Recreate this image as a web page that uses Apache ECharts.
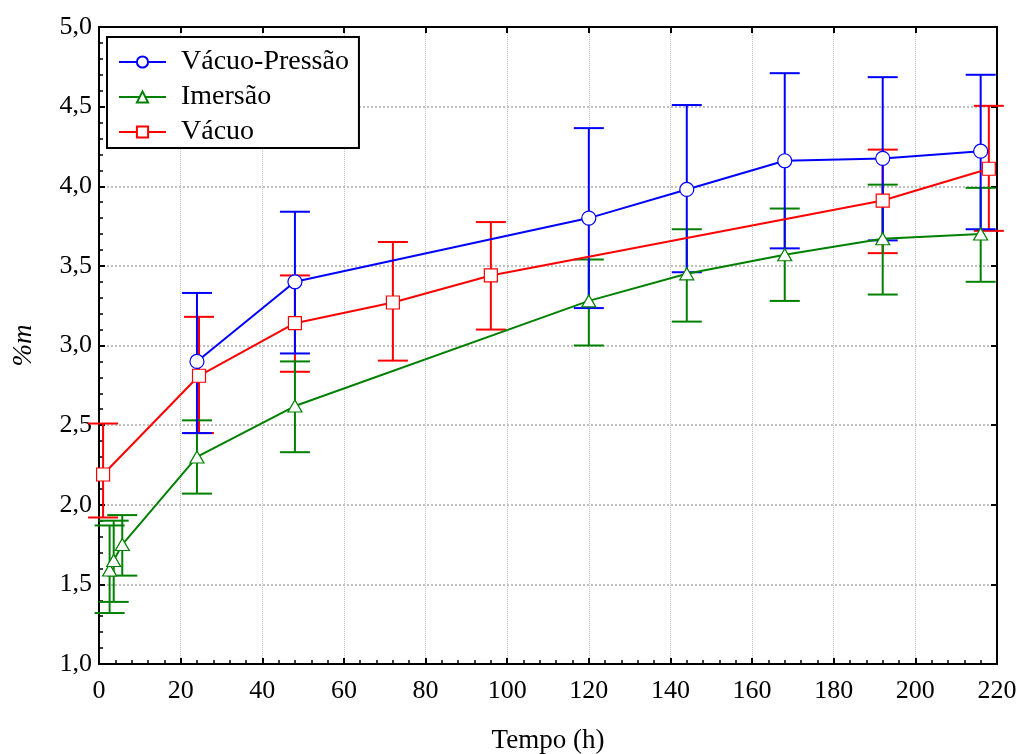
<!DOCTYPE html>
<html>
<head>
<meta charset="utf-8">
<script src="https://cdn.jsdelivr.net/npm/echarts@6/dist/echarts.min.js"></script>
<style>
html,body{margin:0;padding:0;background:#fff;}
#chart{width:1020px;height:754px;}
</style>
</head>
<body>
<div id="chart"></div>
<script>
// ---- data ----
const vpX     = [24, 48, 120, 144, 168, 192, 216];
const vpY     = [2.90, 3.40, 3.80, 3.98, 4.16, 4.175, 4.22];
const vpHigh  = [3.33, 3.84, 4.365, 4.51, 4.71, 4.685, 4.70];
const vpLow   = [2.45, 2.95, 3.235, 3.46, 3.61, 3.66, 3.73];

const imX     = [2.6, 3.6, 5.7, 24, 48, 120, 144, 168, 192, 216];
const imY     = [1.59, 1.65, 1.75, 2.30, 2.62, 3.28, 3.45, 3.57, 3.67, 3.70];
const imHigh  = [1.87, 1.90, 1.935, 2.53, 2.90, 3.54, 3.73, 3.86, 4.01, 3.99];
const imLow   = [1.32, 1.39, 1.555, 2.07, 2.33, 3.00, 3.15, 3.28, 3.32, 3.40];

const vaX     = [1, 24.5, 48, 72, 96, 192, 218];
const vaY     = [2.19, 2.81, 3.14, 3.27, 3.44, 3.91, 4.11];
const vaHigh  = [2.51, 3.18, 3.44, 3.65, 3.775, 4.23, 4.505];
const vaLow   = [1.92, 2.45, 2.835, 2.905, 3.10, 3.58, 3.72];

const seriesNames = ['Vácuo-Pressão', 'Imersão', 'Vácuo'];
const seriesColors = ['#0000ff', '#008000', '#ff0000'];
const seriesSymbols = ['circle', 'triangle', 'rect'];
const xTitle = 'Tempo (h)';
const yTitle = '%m';

const FONT = '"Liberation Serif", "Times New Roman", serif';

function pairs(xs, ys) { return xs.map((x, i) => [x, ys[i]]); }
function triples(xs, lo, hi) { return xs.map((x, i) => [x, lo[i], hi[i]]); }

function errSeries(name, color, data) {
  return {
    type: 'custom',
    name: name + ' err',
    z: 2,
    silent: true,
    data: data,
    encode: { x: 0, y: [1, 2] },
    renderItem: function (params, api) {
      const x = api.value(0);
      const lo = api.coord([x, api.value(1)]);
      const hi = api.coord([x, api.value(2)]);
      const hw = 15;
      const st = { stroke: color, lineWidth: 2 };
      return {
        type: 'group',
        children: [
          { type: 'line', shape: { x1: lo[0], y1: lo[1], x2: hi[0], y2: hi[1] }, style: st },
          { type: 'line', shape: { x1: hi[0] - hw, y1: hi[1], x2: hi[0] + hw, y2: hi[1] }, style: st },
          { type: 'line', shape: { x1: lo[0] - hw, y1: lo[1], x2: lo[0] + hw, y2: lo[1] }, style: st }
        ]
      };
    }
  };
}

const symbolSizes = [14, [14, 12], 13];

function lineSeries(idx, data) {
  return {
    type: 'line',
    name: seriesNames[idx],
    z: 3,
    data: data,
    symbol: seriesSymbols[idx],
    symbolSize: symbolSizes[idx],
    showAllSymbol: true,
    lineStyle: { color: seriesColors[idx], width: 2 },
    itemStyle: { color: '#ffffff', borderColor: seriesColors[idx], borderWidth: 1.2 },
    emphasis: { disabled: true },
    animation: false
  };
}

const chart = echarts.init(document.getElementById('chart'), null, { renderer: 'canvas' });

const axisLineStyle = { color: '#000', width: 2 };

chart.setOption({
  animation: false,
  backgroundColor: '#fff',
  textStyle: { fontFamily: FONT },
  grid: { left: 99, right: 23, top: 27, bottom: 90, containLabel: false, outerBoundsMode: 'none' },
  legend: {
    orient: 'vertical',
    left: 107,
    top: 37,
    data: seriesNames,
    itemWidth: 47,
    itemHeight: 14,
    itemGap: 7,
    padding: [11, 10, 2, 11],
    borderColor: '#000',
    borderWidth: 2,
    backgroundColor: '#fff',
    textStyle: { fontFamily: FONT, fontSize: 28, color: '#000', lineHeight: 28, padding: [0, 0, 0, 10] }
  },
  xAxis: [
    {
      type: 'value', min: 0, max: 220, interval: 20, position: 'bottom',
      name: xTitle, nameLocation: 'middle', nameGap: 63,
      nameTextStyle: { fontFamily: FONT, fontSize: 27, color: '#000' },
      axisLine: { show: true, onZero: false, lineStyle: axisLineStyle },
      axisTick: { show: true, inside: true, length: 6, lineStyle: { color: '#000', width: 2 } },
      minorTick: { show: true, splitNumber: 5, length: 4, lineStyle: { color: '#000', width: 1.5 } },
      axisLabel: { fontFamily: FONT, fontSize: 26, color: '#000', margin: 14 },
      splitLine: { show: true, lineStyle: { color: '#c0c0c0', type: 'dotted', width: 1 } }
    },
    {
      type: 'value', min: 0, max: 220, interval: 20, position: 'top',
      axisLine: { show: true, onZero: false, lineStyle: axisLineStyle },
      axisTick: { show: true, inside: true, length: 6, lineStyle: { color: '#000', width: 2 } },
      axisLabel: { show: false },
      splitLine: { show: false }
    }
  ],
  yAxis: [
    {
      type: 'value', min: 1, max: 5, interval: 0.5, position: 'left',
      name: yTitle, nameLocation: 'middle', nameGap: 62, nameRotate: 90,
      nameTextStyle: { fontFamily: FONT, fontSize: 27, color: '#000', fontStyle: 'italic' },
      axisLine: { show: true, onZero: false, lineStyle: axisLineStyle },
      axisTick: { show: true, inside: true, length: 6, lineStyle: { color: '#000', width: 2 } },
      minorTick: { show: true, splitNumber: 5, length: 4, lineStyle: { color: '#000', width: 1.5 } },
      axisLabel: {
        fontFamily: FONT, fontSize: 26, color: '#000', margin: 7,
        formatter: function (v) { return v.toFixed(1).replace('.', ','); }
      },
      splitLine: { show: true, lineStyle: { color: '#c0c0c0', type: 'dotted', width: 2 } }
    },
    {
      type: 'value', min: 1, max: 5, interval: 0.5, position: 'right',
      axisLine: { show: true, onZero: false, lineStyle: axisLineStyle },
      axisTick: { show: true, inside: true, length: 6, lineStyle: { color: '#000', width: 2 } },
      axisLabel: { show: false },
      splitLine: { show: false }
    }
  ],
  series: [
    errSeries(seriesNames[2], seriesColors[2], triples(vaX, vaLow, vaHigh)),
    errSeries(seriesNames[1], seriesColors[1], triples(imX, imLow, imHigh)),
    errSeries(seriesNames[0], seriesColors[0], triples(vpX, vpLow, vpHigh)),
    lineSeries(2, pairs(vaX, vaY)),
    lineSeries(1, pairs(imX, imY)),
    lineSeries(0, pairs(vpX, vpY))
  ]
});
</script>
</body>
</html>
